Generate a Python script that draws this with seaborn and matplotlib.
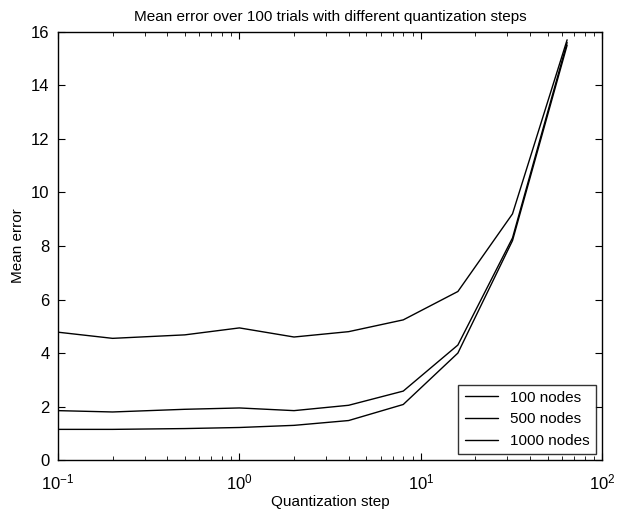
import matplotlib
matplotlib.use("Agg")
import matplotlib.pyplot as plt
import seaborn as sns
import pandas as pd
from matplotlib.ticker import LogLocator

steps = [0.1, 0.2, 0.5, 1, 2, 4, 8, 16, 32, 64]
err_100 = [4.78, 4.55, 4.68, 4.94, 4.6, 4.8, 5.24, 6.3, 9.2, 15.7]
err_500 = [1.85, 1.8, 1.9, 1.95, 1.85, 2.05, 2.58, 4.3, 8.3, 15.6]
err_1000 = [1.15, 1.15, 1.18, 1.22, 1.3, 1.48, 2.08, 4.0, 8.2, 15.5]
series_names = ["100 nodes", "500 nodes", "1000 nodes"]

df = pd.DataFrame({
    "step": steps * 3,
    "err": err_100 + err_500 + err_1000,
    "series": [series_names[0]] * len(steps) + [series_names[1]] * len(steps) + [series_names[2]] * len(steps),
})

sns.set_style("ticks")
plt.rcParams['font.family'] = ['Liberation Sans', 'DejaVu Sans']
plt.rcParams['mathtext.fontset'] = 'custom'
plt.rcParams['mathtext.rm'] = 'Liberation Sans'
for k in ['text.color', 'axes.labelcolor', 'xtick.color', 'ytick.color', 'axes.edgecolor']:
    plt.rcParams[k] = 'black'

fig = plt.figure(figsize=(6.3, 5.13), dpi=100)
ax = fig.add_axes([0.092, 0.103, 0.864, 0.835])

sns.lineplot(data=df, x="step", y="err", hue="series", hue_order=series_names,
             palette=["black", "black", "black"], linewidth=1.0, ax=ax, legend=True)

ax.set_xscale("log")
ax.set_xlim(0.1, 100)
ax.set_ylim(0, 16)
ax.set_yticks(range(0, 17, 2))
ax.xaxis.set_minor_locator(LogLocator(base=10, subs=range(2, 10)))
ax.tick_params(which="both", direction="in", top=True, right=True, labelsize=12, colors="black")
ax.tick_params(which="major", length=5)
ax.tick_params(which="minor", length=3)
ax.tick_params(axis="x", which="major", pad=9)
ax.tick_params(axis="y", which="major", pad=6)
for s in ax.spines.values():
    s.set_linewidth(1.0)
    s.set_color("black")

ax.set_xlabel("Quantization step", fontsize=11, labelpad=2, color="black")
ax.set_ylabel("Mean error", fontsize=11, color="black")
ax.set_title("Mean error over 100 trials with different quantization steps", fontsize=11, pad=8, color="black")

leg = ax.legend(loc="lower right", fontsize=11, frameon=True, fancybox=False,
                edgecolor="black", handlelength=2.2, borderaxespad=0.4)
leg.get_frame().set_linewidth(1.0)
for t in leg.get_texts():
    t.set_color("black")

fig.savefig("out.png", dpi=100)
